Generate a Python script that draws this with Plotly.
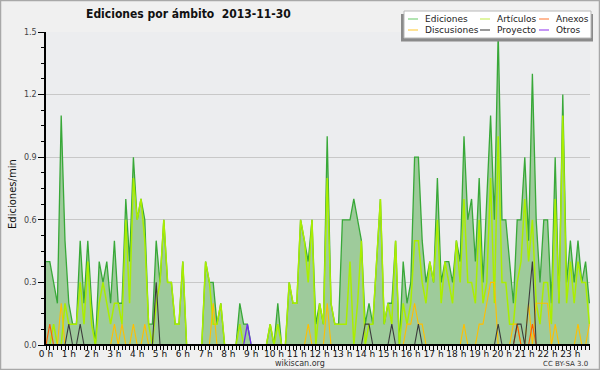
import plotly.graph_objects as go

# 10-minute slots, 0..143 (value = edits per minute)
ediciones = [0.4,0.4,0.3,0.2,1.1,0.5,0.2,0.1,0.1,0.5,0.2,0.5,0.2,0.0,0.4,0.3,0.4,0.2,0.5,0.2,
             0.2,0.7,0.4,0.9,0.6,0.7,0.6,0.1,0.1,0.5,0.3,0.6,0.3,0.3,0.1,0.1,0.4,0.0,0.0,0.0,
             0.0,0.0,0.4,0.3,0.3,0.1,0.2,0.0,0.0,0.0,0.0,0.2,0.1,0.1,0.0,0.0,0.0,0.0,0.0,0.1,
             0.0,0.2,0.0,0.0,0.3,0.2,0.2,0.6,0.5,0.4,0.6,0.1,0.2,0.1,1.0,0.2,0.1,0.1,0.6,0.6,
             0.6,0.7,0.6,0.5,0.1,0.2,0.1,0.4,0.7,0.1,0.2,0.2,0.5,0.0,0.4,0.2,0.3,0.9,0.9,0.5,
             0.3,0.4,0.3,0.8,0.3,0.4,0.4,0.3,0.5,0.4,1.0,0.6,0.7,0.4,0.8,0.3,0.7,1.1,0.6,1.5,
             0.6,0.6,0.4,0.2,0.6,0.6,0.9,0.5,1.3,0.6,0.3,0.6,0.6,0.2,0.9,0.2,1.2,0.3,0.5,0.3,
             0.5,0.3,0.4,0.2]
articulos = [0.0,0.0,0.1,0.0,0.0,0.2,0.1,0.1,0.1,0.3,0.1,0.4,0.1,0.0,0.2,0.3,0.2,0.1,0.2,0.2,
             0.1,0.6,0.2,0.8,0.6,0.7,0.5,0.1,0.0,0.2,0.3,0.6,0.3,0.3,0.1,0.1,0.4,0.0,0.0,0.0,
             0.0,0.0,0.4,0.3,0.1,0.1,0.2,0.0,0.0,0.0,0.0,0.1,0.0,0.0,0.0,0.0,0.0,0.0,0.0,0.1,
             0.0,0.1,0.0,0.0,0.3,0.2,0.2,0.6,0.5,0.3,0.6,0.0,0.2,0.1,0.8,0.2,0.1,0.1,0.1,0.1,
             0.4,0.0,0.2,0.5,0.0,0.1,0.1,0.4,0.7,0.1,0.2,0.1,0.5,0.0,0.2,0.1,0.2,0.5,0.5,0.3,
             0.2,0.4,0.3,0.6,0.2,0.4,0.3,0.2,0.5,0.3,0.7,0.3,0.3,0.2,0.6,0.2,0.3,0.8,0.2,1.0,
             0.3,0.3,0.1,0.1,0.3,0.4,0.7,0.4,0.6,0.2,0.1,0.3,0.3,0.1,0.7,0.2,1.1,0.2,0.4,0.2,
             0.4,0.3,0.3,0.1]
discusiones = [0.0]*144
for k, v in {4:0.2,18:0.1,20:0.1,23:0.1,26:0.1,44:0.2,69:0.1,74:0.2,95:0.1,96:0.1,97:0.2,
             98:0.1,99:0.1,110:0.1,114:0.1,115:0.1,116:0.2,117:0.3,118:0.3,123:0.1,124:0.1,
             127:0.2,129:0.2,130:0.2,131:0.2,132:0.2,134:0.1,140:0.1,143:0.1}.items():
    discusiones[k] = v
proyecto = [0.0]*144
for k, v in {6:0.1,9:0.1,29:0.3,84:0.1,85:0.1,91:0.1,98:0.1,119:0.1,124:0.1,125:0.1,
             127:0.2,128:0.4}.items():
    proyecto[k] = v
anexos = [0.0]*144
for k, v in {1:0.1,124:0.1,128:0.1}.items():
    anexos[k] = v
otros = [0.0]*144
otros[53] = 0.1

hours = [i/6 for i in range(144)]
hour_ticks = list(range(24))
hour_labels = [f"{h} h" for h in hour_ticks]

FONT = "DejaVu Sans"
fig = go.Figure()
fig.add_trace(go.Scatter(x=hours, y=ediciones, mode="lines", fill="tozeroy",
                         fillcolor="#9ecb9b", line=dict(color="#38a838", width=1.3),
                         name="Ediciones"))
fig.add_trace(go.Scatter(x=hours, y=articulos, mode="lines",
                         line=dict(color="#aaee00", width=1.5), name="Artículos"))
fig.add_trace(go.Scatter(x=hours, y=discusiones, mode="lines",
                         line=dict(color="#ffbf00", width=1.1), name="Discusiones"))
fig.add_trace(go.Scatter(x=hours, y=anexos, mode="lines",
                         line=dict(color="#ff5a00", width=1.1), name="Anexos"))
fig.add_trace(go.Scatter(x=hours, y=proyecto, mode="lines",
                         line=dict(color="#3c3c3c", width=1.1), name="Proyecto"))
fig.add_trace(go.Scatter(x=hours, y=otros, mode="lines",
                         line=dict(color="#7028f0", width=1.3), name="Otros"))

L, R, T, B = 46, 10, 32, 25
PW, PH = 600 - L - R, 370 - T - B
def px(x): return (x - L) / PW
def py(y): return (370 - B - y) / PH

shapes = []
annotations = []
# baseline drawn over the zero-valued segments
shapes.append(dict(type="line", xref="paper", yref="y", x0=0, x1=1, y0=0, y1=0,
                   line=dict(color="black", width=2), layer="above"))
# outer frame
shapes.append(dict(type="rect", xref="paper", yref="paper", x0=px(0.5), x1=px(599.5),
                   y0=py(369.5), y1=py(0.5), line=dict(color="#a8a8a8", width=1.5),
                   layer="above"))
# legend box with shadow
shapes.append(dict(type="rect", xref="paper", yref="paper", x0=px(401), x1=px(593),
                   y0=py(41.5), y1=py(14), fillcolor="#8a8a8a", line=dict(width=0), layer="above"))
shapes.append(dict(type="rect", xref="paper", yref="paper", x0=px(404), x1=px(591),
                   y0=py(38), y1=py(11), fillcolor="white", line=dict(color="#b8b8b8", width=1),
                   layer="above"))
legend_items = [("Ediciones", "#7fd37f", 408, 19), ("Artículos", "#ccf066", 480, 19),
                ("Anexos", "#ff8a50", 539, 19), ("Discusiones", "#ffd050", 408, 30),
                ("Proyecto", "#555555", 480, 30), ("Otros", "#a050f0", 539, 30)]
for name, col, x0, y0 in legend_items:
    shapes.append(dict(type="line", xref="paper", yref="paper", x0=px(x0), x1=px(x0 + 10),
                       y0=py(y0), y1=py(y0), line=dict(color=col, width=1.2), layer="above"))
    annotations.append(dict(text=name, xref="paper", yref="paper", x=px(x0 + 15), y=py(y0),
                            xanchor="left", yanchor="middle", showarrow=False,
                            font=dict(family=FONT, size=9, color="#222")))

annotations += [
    dict(text="<b>Ediciones por ámbito  2013-11-30</b>", xref="paper", yref="paper",
         x=px(188), y=py(14), xanchor="center", yanchor="middle", showarrow=False,
         font=dict(family="DejaVu Sans Condensed, DejaVu Sans", size=12, color="#111")),
    dict(text="Ediciones/min", xref="paper", yref="paper", x=px(12), y=py(194),
         xanchor="center", yanchor="middle", textangle=-90, showarrow=False,
         font=dict(family=FONT, size=10, color="#111")),
    dict(text="wikiscan.org", xref="paper", yref="paper", x=px(300), y=py(363),
         xanchor="center", yanchor="middle", showarrow=False,
         font=dict(family=FONT, size=8, color="#333")),
    dict(text="CC BY-SA 3.0", xref="paper", yref="paper", x=px(590), y=py(363.5),
         xanchor="right", yanchor="middle", showarrow=False,
         font=dict(family=FONT, size=7, color="#333")),
]

fig.update_layout(
    width=600, height=370, margin=dict(l=L, r=R, t=T, b=B, pad=0),
    paper_bgcolor="#f0f0f0", plot_bgcolor="#ecedef", showlegend=False,
    shapes=shapes, annotations=annotations,
    xaxis=dict(range=[0, 143.16/6], tickvals=hour_ticks, ticktext=hour_labels,
               ticks="outside", ticklen=4, tickwidth=1, tickcolor="black",
               ticklabelstandoff=-4,
               showline=True, linecolor="black", linewidth=1, showgrid=False, zeroline=False,
               tickfont=dict(family=FONT, size=9, color="#111"),
               minor=dict(dtick=1/6, tick0=0, ticks="outside", ticklen=4, tickcolor="black",
                          tickwidth=1, showgrid=False)),
    yaxis=dict(range=[0, 1.5], dtick=0.3, tick0=0, tickformat=".1f",
               ticks="outside", ticklen=6, tickcolor="black", tickwidth=1,
               showline=True, linecolor="black", linewidth=1.5,
               showgrid=True, gridcolor="#c8c8c8", gridwidth=1, zeroline=False,
               tickfont=dict(family=FONT, size=8, color="#444"),
               minor=dict(dtick=0.075, tick0=0, ticks="outside", ticklen=3,
                          tickcolor="black", showgrid=False)),
)
fig.write_html("out.html", config={"displayModeBar": False},
               post_script="document.body.style.margin='0';document.body.style.padding='0';")
